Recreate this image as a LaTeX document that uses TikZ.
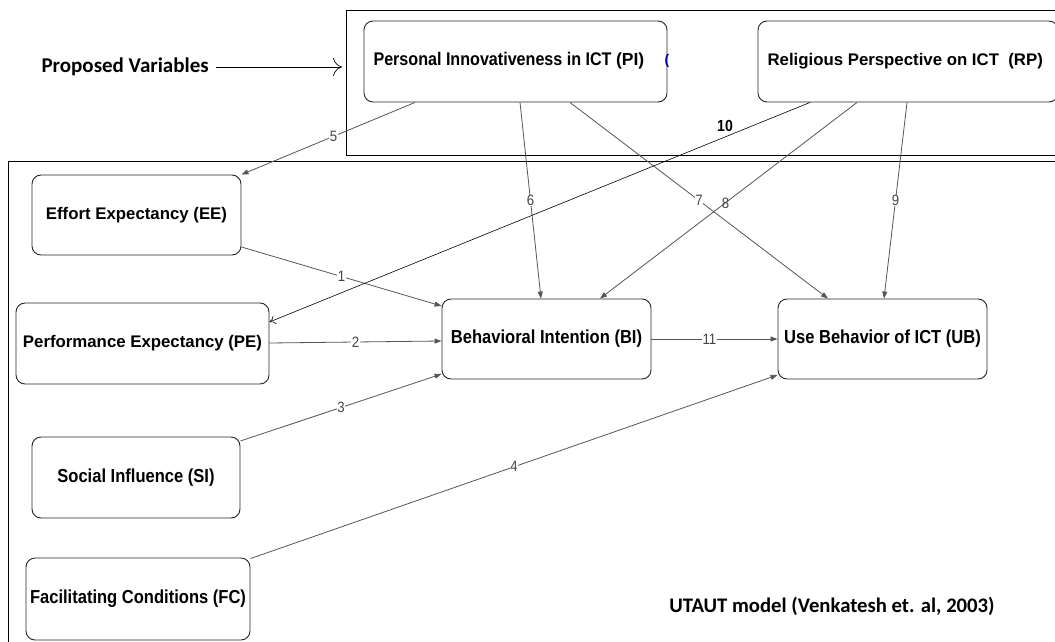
\documentclass[tikz,border=0pt]{standalone}
\usepackage{fontspec}
\setmainfont{Liberation Sans}
\newfontfamily\narrowf[FakeStretch=0.88]{Liberation Sans}
\newfontfamily\calib{Carlito}
\usetikzlibrary{arrows.meta}
\definecolor{lnk}{HTML}{555555}
\definecolor{lbl}{HTML}{444444}
\tikzset{
  vbox/.style={draw=black!85, line width=0.9pt, rounded corners=9pt, inner sep=0pt},
  link/.style={draw=lnk, line width=0.8pt, -{Triangle[length=7pt,width=5pt]}},
  num/.style={fill=white, inner sep=0.5pt, text=lbl, font=\narrowf\fontsize{15}{15}\selectfont},
  frame/.style={draw=black, line width=0.9pt},
  wide/.style={font=\bfseries\fontsize{16.8}{18}\selectfont},
  narrow/.style={font=\narrowf\bfseries\fontsize{18.8}{20}\selectfont}
}
\begin{document}
\begin{tikzpicture}[x=1pt,y=-1pt]
\useasboundingbox (0,0) rectangle (1055,642);
\clip (0,0) rectangle (1055,642);
% frames
\draw[frame] (1060,10) -- (346,10) -- (346,155) -- (1060,155);
\draw[frame] (1060,161) -- (8,161) -- (8,650);
% title
\node[font=\calib\bfseries\fontsize{21}{22}\selectfont, anchor=west] (pv) at (38,67) {Proposed Variables};
\coordinate (pvend) at (342,67);
\draw[line width=0.7pt, -{To[length=9pt,width=18pt]}] (pv.east) ++(4,0) -- (pvend);
% boxes
\node[vbox, minimum width=303pt, minimum height=81pt] (pi) at (515.5,61.5) {};
\node[font=\narrowf\bfseries\fontsize{18.3}{20}\selectfont, anchor=west] (pit) at (370,61) {Personal Innovativeness in ICT {\normalfont\bfseries\fontsize{17.5}{18}\selectfont(PI)}};
\node[text=blue!70!black, font=\bfseries\fontsize{14}{14}\selectfont] (pix) at (667,61) {(};
\node[vbox, minimum width=300pt, minimum height=81pt] (rp) at (908,61.5) {};
\node[wide, anchor=west] (rpt) at (764,61) {Religious Perspective on ICT\ \ (RP)};
\node[vbox, minimum width=209pt, minimum height=80pt, wide] (ee) at (136.5,215) {Effort Expectancy (EE)};
\node[vbox, minimum width=253pt, minimum height=81pt, wide] (pe) at (142.5,343.5) {Performance Expectancy (PE)};
\node[vbox, minimum width=208pt, minimum height=81pt, narrow] (si) at (136,477.5) {Social Influence (SI)};
\node[vbox, minimum width=224pt, minimum height=82pt, narrow] (fc) at (138,599) {Facilitating Conditions (FC)};
\node[vbox, minimum width=209pt, minimum height=80pt, narrow] (bi) at (546.5,339) {Behavioral Intention (BI)};
\node[vbox, minimum width=209pt, minimum height=80pt, narrow] (ub) at (882.5,339) {Use Behavior of ICT (UB)};
\node[font=\calib\bfseries\fontsize{20.7}{22}\selectfont] (ut) at (832,606) {UTAUT model (Venkatesh et. al, 2003)};
% links
\draw[link] (ee.east |- 0,247) -- node[num, pos=0.5] {1} (bi.west |- 0,306);
\draw[link] (pe.east |- 0,343) -- node[num, pos=0.5] {2} (bi.west |- 0,341);
\draw[link] (si.east |- 0,441) -- node[num, pos=0.5] {3} (bi.west |- 0,374);
\draw[link] (fc.north east) ++(0,1) -- node[num, pos=0.5] {4} (ub.west |- 0,375);
\draw[link] (pi.south -| 415,0) -- node[num, pos=0.47] {5} (ee.north east);
\draw[link] (pi.south -| 520,0) -- node[num, pos=0.5] {6} (bi.north -| 541,0);
\draw[link] (pi.south -| 570,0) -- node[num, pos=0.5] {7} (ub.north -| 828,0);
\draw[link] (rp.south -| 857,0) -- node[num, pos=0.5, fill=none, xshift=-3pt, yshift=-3pt] {8} (bi.north -| 600,0);
\draw[link] (rp.south -| 907,0) -- node[num, pos=0.5] {9} (ub.north -| 884,0);
\draw[link] (bi.east) -- node[num, pos=0.46] {11} (ub.west);
\draw[black, line width=0.6pt, -{To[length=6pt,width=9pt]}] (rp.south -| 810,0) -- (pe.north east |- 0,322);
\node[font=\narrowf\bfseries\fontsize{16}{16}\selectfont] (ten) at (725,126) {10};
\end{tikzpicture}
\end{document}
